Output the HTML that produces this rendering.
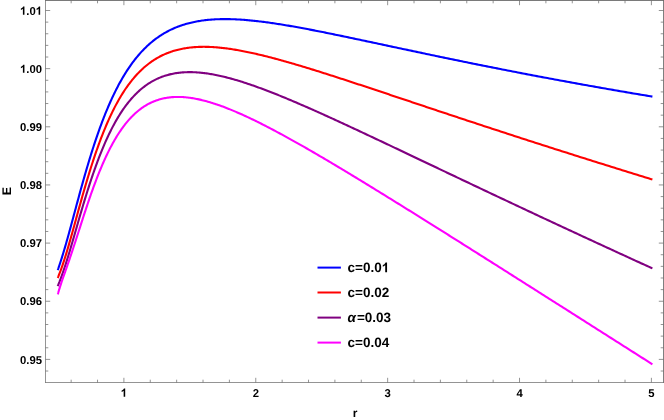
<!DOCTYPE html>
<html><head><meta charset="utf-8"><style>
html,body{margin:0;padding:0;background:#fff;}
svg{display:block;will-change:transform;}
text{font-family:"Liberation Sans",sans-serif;font-weight:bold;font-size:11.3px;fill:#000;text-rendering:geometricPrecision;}
</style></head><body>
<svg width="664" height="420" viewBox="0 0 664 420">
<rect width="664" height="420" fill="#fff"/>
<path d="M57.70,270.17 L57.73,270.09 L57.79,269.93 L57.87,269.70 L57.96,269.43 L58.08,269.11 L58.20,268.74 L58.34,268.34 L58.50,267.90 L58.66,267.42 L58.84,266.90 L59.03,266.35 L59.23,265.77 L59.44,265.15 L59.65,264.49 L59.88,263.81 L60.12,263.09 L60.37,262.34 L60.62,261.55 L60.89,260.74 L61.16,259.89 L61.44,259.00 L61.73,258.09 L62.03,257.14 L62.33,256.15 L62.64,255.14 L62.96,254.09 L63.29,253.01 L63.63,251.90 L63.97,250.75 L64.32,249.57 L64.67,248.36 L65.04,247.12 L65.41,245.84 L65.79,244.53 L66.17,243.19 L66.56,241.82 L66.96,240.41 L67.36,238.98 L67.77,237.51 L68.19,236.02 L68.61,234.49 L69.04,232.93 L69.47,231.35 L69.91,229.74 L70.36,228.10 L70.81,226.43 L71.27,224.73 L71.74,223.01 L72.21,221.27 L72.69,219.50 L73.17,217.70 L73.66,215.89 L74.15,214.05 L74.65,212.19 L75.15,210.31 L75.67,208.41 L76.18,206.49 L76.70,204.56 L77.23,202.61 L77.76,200.64 L78.30,198.65 L78.84,196.66 L79.39,194.65 L79.94,192.63 L80.50,190.59 L81.07,188.55 L81.64,186.50 L82.21,184.44 L82.79,182.37 L83.37,180.30 L83.96,178.22 L84.56,176.13 L85.16,174.05 L85.76,171.96 L86.37,169.87 L86.98,167.77 L87.60,165.68 L88.23,163.59 L88.86,161.50 L89.49,159.41 L90.13,157.33 L90.77,155.25 L91.42,153.17 L92.07,151.10 L92.73,149.04 L93.39,146.99 L94.06,144.94 L94.73,142.90 L95.40,140.87 L96.08,138.85 L96.77,136.84 L97.46,134.84 L98.15,132.85 L98.85,130.87 L99.55,128.91 L100.26,126.96 L100.97,125.03 L101.68,123.10 L102.40,121.20 L103.13,119.30 L103.86,117.43 L104.59,115.57 L105.33,113.72 L106.07,111.89 L106.82,110.08 L107.57,108.29 L108.32,106.51 L109.08,104.75 L109.85,103.01 L110.61,101.29 L111.39,99.59 L112.16,97.90 L112.94,96.23 L113.73,94.59 L114.51,92.96 L115.31,91.35 L116.10,89.76 L116.90,88.19 L117.71,86.64 L118.52,85.11 L119.33,83.60 L120.15,82.12 L120.97,80.65 L121.79,79.20 L122.62,77.77 L123.46,76.36 L124.29,74.97 L125.13,73.60 L125.98,72.26 L126.83,70.93 L127.68,69.62 L128.54,68.34 L129.40,67.07 L130.26,65.82 L131.13,64.60 L132.00,63.39 L132.88,62.20 L133.76,61.04 L134.64,59.89 L135.53,58.76 L136.42,57.65 L137.32,56.57 L138.21,55.50 L139.12,54.45 L140.02,53.42 L140.93,52.41 L141.85,51.41 L142.77,50.44 L143.69,49.48 L144.61,48.55 L145.54,47.63 L146.47,46.73 L147.41,45.85 L148.35,44.98 L149.29,44.14 L150.24,43.31 L151.19,42.50 L152.15,41.70 L153.11,40.92 L154.07,40.16 L155.03,39.42 L156.00,38.69 L156.97,37.98 L157.95,37.29 L158.93,36.61 L159.91,35.95 L160.90,35.30 L161.89,34.67 L162.89,34.06 L163.88,33.46 L164.88,32.87 L165.89,32.30 L166.90,31.75 L167.91,31.21 L168.92,30.68 L169.94,30.17 L170.96,29.67 L171.99,29.19 L173.02,28.72 L174.05,28.26 L175.09,27.81 L176.13,27.38 L177.17,26.97 L178.22,26.56 L179.27,26.17 L180.32,25.79 L181.38,25.42 L182.44,25.07 L183.50,24.73 L184.57,24.40 L185.64,24.08 L186.71,23.77 L187.79,23.47 L188.87,23.19 L189.95,22.91 L191.04,22.65 L192.13,22.40 L193.22,22.16 L194.32,21.92 L195.42,21.70 L196.52,21.49 L197.63,21.29 L198.74,21.10 L199.85,20.92 L200.97,20.75 L202.09,20.58 L203.21,20.43 L204.34,20.29 L205.46,20.15 L206.60,20.02 L207.73,19.91 L208.87,19.80 L210.02,19.70 L211.16,19.60 L212.31,19.52 L213.46,19.44 L214.62,19.38 L215.78,19.32 L216.94,19.26 L218.10,19.22 L219.27,19.18 L220.44,19.15 L221.62,19.13 L222.79,19.11 L223.98,19.10 L225.16,19.10 L226.35,19.11 L227.54,19.12 L228.73,19.14 L229.93,19.16 L231.13,19.19 L232.33,19.23 L233.54,19.27 L234.74,19.32 L235.96,19.37 L237.17,19.43 L238.39,19.50 L239.61,19.57 L240.84,19.65 L242.06,19.73 L243.29,19.82 L244.53,19.92 L245.76,20.01 L247.00,20.12 L248.25,20.23 L249.49,20.34 L250.74,20.46 L251.99,20.58 L253.25,20.71 L254.51,20.84 L255.77,20.98 L257.03,21.12 L258.30,21.27 L259.57,21.42 L260.84,21.57 L262.12,21.73 L263.40,21.89 L264.68,22.06 L265.97,22.23 L267.25,22.40 L268.54,22.58 L269.84,22.76 L271.14,22.94 L272.44,23.13 L273.74,23.32 L275.04,23.52 L276.35,23.72 L277.66,23.92 L278.98,24.12 L280.30,24.33 L281.62,24.54 L282.94,24.76 L284.27,24.98 L285.60,25.20 L286.93,25.42 L288.26,25.64 L289.60,25.87 L290.94,26.10 L292.29,26.34 L293.63,26.57 L294.98,26.81 L296.34,27.06 L297.69,27.30 L299.05,27.55 L300.41,27.80 L301.77,28.05 L303.14,28.30 L304.51,28.56 L305.88,28.81 L307.26,29.07 L308.64,29.34 L310.02,29.60 L311.40,29.87 L312.79,30.13 L314.18,30.40 L315.57,30.68 L316.97,30.95 L318.37,31.22 L319.77,31.50 L321.17,31.78 L322.58,32.06 L323.99,32.34 L325.40,32.63 L326.81,32.91 L328.23,33.20 L329.65,33.49 L331.07,33.78 L332.50,34.07 L333.93,34.36 L335.36,34.66 L336.80,34.95 L338.23,35.25 L339.67,35.55 L341.12,35.85 L342.56,36.15 L344.01,36.45 L345.46,36.75 L346.91,37.06 L348.37,37.36 L349.83,37.67 L351.29,37.98 L352.76,38.29 L354.22,38.60 L355.70,38.91 L357.17,39.22 L358.64,39.53 L360.12,39.84 L361.60,40.16 L363.09,40.47 L364.57,40.79 L366.06,41.11 L367.55,41.42 L369.05,41.74 L370.55,42.06 L372.05,42.38 L373.55,42.70 L375.05,43.02 L376.56,43.34 L378.07,43.67 L379.59,43.99 L381.10,44.31 L382.62,44.64 L384.14,44.96 L385.67,45.29 L387.19,45.62 L388.72,45.94 L390.26,46.27 L391.79,46.60 L393.33,46.93 L394.87,47.26 L396.41,47.59 L397.96,47.92 L399.50,48.25 L401.05,48.58 L402.61,48.91 L404.16,49.24 L405.72,49.57 L407.28,49.90 L408.85,50.23 L410.41,50.57 L411.98,50.90 L413.55,51.23 L415.13,51.57 L416.70,51.90 L418.28,52.24 L419.87,52.57 L421.45,52.90 L423.04,53.24 L424.63,53.57 L426.22,53.91 L427.81,54.25 L429.41,54.58 L431.01,54.92 L432.61,55.25 L434.22,55.59 L435.83,55.93 L437.44,56.26 L439.05,56.60 L440.67,56.94 L442.28,57.27 L443.90,57.61 L445.53,57.95 L447.15,58.28 L448.78,58.62 L450.41,58.96 L452.05,59.30 L453.68,59.63 L455.32,59.97 L456.96,60.31 L458.60,60.65 L460.25,60.98 L461.90,61.32 L463.55,61.66 L465.20,62.00 L466.86,62.33 L468.52,62.67 L470.18,63.01 L471.84,63.35 L473.51,63.68 L475.18,64.02 L476.85,64.36 L478.52,64.70 L480.20,65.03 L481.88,65.37 L483.56,65.71 L485.24,66.04 L486.93,66.38 L488.62,66.72 L490.31,67.05 L492.00,67.39 L493.70,67.73 L495.40,68.06 L497.10,68.40 L498.80,68.74 L500.51,69.07 L502.21,69.41 L503.93,69.74 L505.64,70.08 L507.36,70.42 L509.07,70.75 L510.79,71.09 L512.52,71.42 L514.24,71.76 L515.97,72.09 L517.70,72.43 L519.43,72.76 L521.17,73.10 L522.91,73.43 L524.65,73.76 L526.39,74.10 L528.14,74.43 L529.88,74.77 L531.63,75.10 L533.39,75.43 L535.14,75.77 L536.90,76.10 L538.66,76.43 L540.42,76.76 L542.18,77.10 L543.95,77.43 L545.72,77.76 L547.49,78.09 L549.27,78.42 L551.04,78.75 L552.82,79.08 L554.60,79.42 L556.39,79.75 L558.17,80.08 L559.96,80.41 L561.75,80.74 L563.55,81.07 L565.34,81.40 L567.14,81.72 L568.94,82.05 L570.74,82.38 L572.55,82.71 L574.36,83.04 L576.17,83.37 L577.98,83.70 L579.80,84.02 L581.61,84.35 L583.43,84.68 L585.25,85.00 L587.08,85.33 L588.90,85.66 L590.73,85.98 L592.56,86.31 L594.40,86.64 L596.23,86.96 L598.07,87.29 L599.91,87.61 L601.76,87.94 L603.60,88.26 L605.45,88.58 L607.30,88.91 L609.15,89.23 L611.01,89.56 L612.86,89.88 L614.72,90.20 L616.59,90.52 L618.45,90.85 L620.32,91.17 L622.19,91.49 L624.06,91.81 L625.93,92.13 L627.81,92.45 L629.68,92.78 L631.56,93.10 L633.45,93.42 L635.33,93.74 L637.22,94.06 L639.11,94.38 L641.00,94.70 L642.89,95.01 L644.79,95.33 L646.69,95.65 L648.59,95.97 L650.49,96.29 L652.40,96.61" fill="none" stroke="#0000ff" stroke-width="2.1" stroke-linejoin="round"/>
<path d="M57.70,277.98 L57.73,277.91 L57.79,277.78 L57.87,277.59 L57.96,277.36 L58.08,277.09 L58.20,276.78 L58.34,276.44 L58.50,276.06 L58.66,275.66 L58.84,275.22 L59.03,274.75 L59.23,274.25 L59.44,273.71 L59.65,273.15 L59.88,272.56 L60.12,271.93 L60.37,271.27 L60.62,270.59 L60.89,269.87 L61.16,269.12 L61.44,268.33 L61.73,267.52 L62.03,266.67 L62.33,265.79 L62.64,264.87 L62.96,263.92 L63.29,262.94 L63.63,261.93 L63.97,260.88 L64.32,259.80 L64.67,258.68 L65.04,257.53 L65.41,256.34 L65.79,255.12 L66.17,253.87 L66.56,252.58 L66.96,251.26 L67.36,249.91 L67.77,248.52 L68.19,247.10 L68.61,245.65 L69.04,244.16 L69.47,242.65 L69.91,241.10 L70.36,239.53 L70.81,237.92 L71.27,236.29 L71.74,234.62 L72.21,232.93 L72.69,231.22 L73.17,229.48 L73.66,227.71 L74.15,225.92 L74.65,224.10 L75.15,222.27 L75.67,220.41 L76.18,218.53 L76.70,216.64 L77.23,214.72 L77.76,212.79 L78.30,210.84 L78.84,208.88 L79.39,206.90 L79.94,204.91 L80.50,202.91 L81.07,200.89 L81.64,198.87 L82.21,196.84 L82.79,194.80 L83.37,192.75 L83.96,190.70 L84.56,188.65 L85.16,186.59 L85.76,184.53 L86.37,182.46 L86.98,180.40 L87.60,178.34 L88.23,176.28 L88.86,174.22 L89.49,172.16 L90.13,170.11 L90.77,168.06 L91.42,166.02 L92.07,163.99 L92.73,161.96 L93.39,159.94 L94.06,157.93 L94.73,155.93 L95.40,153.94 L96.08,151.96 L96.77,150.00 L97.46,148.04 L98.15,146.10 L98.85,144.17 L99.55,142.26 L100.26,140.36 L100.97,138.48 L101.68,136.61 L102.40,134.76 L103.13,132.93 L103.86,131.11 L104.59,129.31 L105.33,127.53 L106.07,125.76 L106.82,124.02 L107.57,122.29 L108.32,120.59 L109.08,118.90 L109.85,117.23 L110.61,115.58 L111.39,113.96 L112.16,112.35 L112.94,110.76 L113.73,109.20 L114.51,107.65 L115.31,106.13 L116.10,104.63 L116.90,103.15 L117.71,101.69 L118.52,100.25 L119.33,98.83 L120.15,97.44 L120.97,96.07 L121.79,94.71 L122.62,93.38 L123.46,92.08 L124.29,90.79 L125.13,89.53 L125.98,88.28 L126.83,87.06 L127.68,85.86 L128.54,84.68 L129.40,83.53 L130.26,82.39 L131.13,81.28 L132.00,80.18 L132.88,79.11 L133.76,78.06 L134.64,77.03 L135.53,76.02 L136.42,75.03 L137.32,74.06 L138.21,73.11 L139.12,72.18 L140.02,71.28 L140.93,70.39 L141.85,69.52 L142.77,68.67 L143.69,67.84 L144.61,67.03 L145.54,66.24 L146.47,65.47 L147.41,64.71 L148.35,63.98 L149.29,63.26 L150.24,62.56 L151.19,61.88 L152.15,61.22 L153.11,60.58 L154.07,59.95 L155.03,59.34 L156.00,58.75 L156.97,58.17 L157.95,57.61 L158.93,57.07 L159.91,56.54 L160.90,56.03 L161.89,55.54 L162.89,55.06 L163.88,54.60 L164.88,54.15 L165.89,53.72 L166.90,53.30 L167.91,52.90 L168.92,52.51 L169.94,52.14 L170.96,51.78 L171.99,51.44 L173.02,51.11 L174.05,50.79 L175.09,50.49 L176.13,50.20 L177.17,49.92 L178.22,49.66 L179.27,49.41 L180.32,49.17 L181.38,48.95 L182.44,48.73 L183.50,48.53 L184.57,48.35 L185.64,48.17 L186.71,48.00 L187.79,47.85 L188.87,47.71 L189.95,47.58 L191.04,47.46 L192.13,47.35 L193.22,47.25 L194.32,47.16 L195.42,47.08 L196.52,47.02 L197.63,46.96 L198.74,46.91 L199.85,46.87 L200.97,46.85 L202.09,46.83 L203.21,46.82 L204.34,46.82 L205.46,46.83 L206.60,46.85 L207.73,46.87 L208.87,46.91 L210.02,46.95 L211.16,47.01 L212.31,47.07 L213.46,47.14 L214.62,47.21 L215.78,47.30 L216.94,47.39 L218.10,47.49 L219.27,47.60 L220.44,47.72 L221.62,47.84 L222.79,47.97 L223.98,48.10 L225.16,48.25 L226.35,48.40 L227.54,48.56 L228.73,48.72 L229.93,48.89 L231.13,49.07 L232.33,49.25 L233.54,49.44 L234.74,49.64 L235.96,49.84 L237.17,50.05 L238.39,50.26 L239.61,50.48 L240.84,50.71 L242.06,50.94 L243.29,51.17 L244.53,51.41 L245.76,51.66 L247.00,51.91 L248.25,52.17 L249.49,52.43 L250.74,52.70 L251.99,52.97 L253.25,53.25 L254.51,53.53 L255.77,53.82 L257.03,54.11 L258.30,54.40 L259.57,54.70 L260.84,55.01 L262.12,55.32 L263.40,55.63 L264.68,55.95 L265.97,56.27 L267.25,56.59 L268.54,56.92 L269.84,57.25 L271.14,57.59 L272.44,57.93 L273.74,58.27 L275.04,58.62 L276.35,58.97 L277.66,59.33 L278.98,59.69 L280.30,60.05 L281.62,60.41 L282.94,60.78 L284.27,61.15 L285.60,61.53 L286.93,61.91 L288.26,62.29 L289.60,62.67 L290.94,63.06 L292.29,63.45 L293.63,63.84 L294.98,64.24 L296.34,64.64 L297.69,65.04 L299.05,65.44 L300.41,65.85 L301.77,66.26 L303.14,66.67 L304.51,67.09 L305.88,67.50 L307.26,67.92 L308.64,68.34 L310.02,68.77 L311.40,69.20 L312.79,69.62 L314.18,70.06 L315.57,70.49 L316.97,70.93 L318.37,71.36 L319.77,71.80 L321.17,72.25 L322.58,72.69 L323.99,73.14 L325.40,73.58 L326.81,74.03 L328.23,74.49 L329.65,74.94 L331.07,75.40 L332.50,75.85 L333.93,76.31 L335.36,76.77 L336.80,77.24 L338.23,77.70 L339.67,78.17 L341.12,78.64 L342.56,79.11 L344.01,79.58 L345.46,80.05 L346.91,80.53 L348.37,81.00 L349.83,81.48 L351.29,81.96 L352.76,82.44 L354.22,82.92 L355.70,83.41 L357.17,83.89 L358.64,84.38 L360.12,84.87 L361.60,85.36 L363.09,85.85 L364.57,86.34 L366.06,86.83 L367.55,87.32 L369.05,87.82 L370.55,88.32 L372.05,88.82 L373.55,89.31 L375.05,89.81 L376.56,90.32 L378.07,90.82 L379.59,91.32 L381.10,91.83 L382.62,92.33 L384.14,92.84 L385.67,93.35 L387.19,93.86 L388.72,94.37 L390.26,94.88 L391.79,95.39 L393.33,95.91 L394.87,96.42 L396.41,96.93 L397.96,97.45 L399.50,97.97 L401.05,98.49 L402.61,99.00 L404.16,99.52 L405.72,100.05 L407.28,100.57 L408.85,101.09 L410.41,101.61 L411.98,102.14 L413.55,102.66 L415.13,103.19 L416.70,103.71 L418.28,104.24 L419.87,104.77 L421.45,105.30 L423.04,105.83 L424.63,106.36 L426.22,106.89 L427.81,107.42 L429.41,107.95 L431.01,108.49 L432.61,109.02 L434.22,109.55 L435.83,110.09 L437.44,110.63 L439.05,111.16 L440.67,111.70 L442.28,112.24 L443.90,112.78 L445.53,113.32 L447.15,113.86 L448.78,114.40 L450.41,114.94 L452.05,115.48 L453.68,116.02 L455.32,116.56 L456.96,117.11 L458.60,117.65 L460.25,118.20 L461.90,118.74 L463.55,119.29 L465.20,119.83 L466.86,120.38 L468.52,120.93 L470.18,121.48 L471.84,122.02 L473.51,122.57 L475.18,123.12 L476.85,123.67 L478.52,124.22 L480.20,124.77 L481.88,125.33 L483.56,125.88 L485.24,126.43 L486.93,126.98 L488.62,127.54 L490.31,128.09 L492.00,128.64 L493.70,129.20 L495.40,129.75 L497.10,130.31 L498.80,130.87 L500.51,131.42 L502.21,131.98 L503.93,132.54 L505.64,133.09 L507.36,133.65 L509.07,134.21 L510.79,134.77 L512.52,135.33 L514.24,135.89 L515.97,136.45 L517.70,137.01 L519.43,137.57 L521.17,138.13 L522.91,138.70 L524.65,139.26 L526.39,139.82 L528.14,140.39 L529.88,140.95 L531.63,141.51 L533.39,142.08 L535.14,142.64 L536.90,143.21 L538.66,143.77 L540.42,144.34 L542.18,144.90 L543.95,145.47 L545.72,146.04 L547.49,146.61 L549.27,147.17 L551.04,147.74 L552.82,148.31 L554.60,148.88 L556.39,149.45 L558.17,150.02 L559.96,150.59 L561.75,151.16 L563.55,151.73 L565.34,152.30 L567.14,152.87 L568.94,153.44 L570.74,154.01 L572.55,154.58 L574.36,155.16 L576.17,155.73 L577.98,156.30 L579.80,156.88 L581.61,157.45 L583.43,158.02 L585.25,158.60 L587.08,159.17 L588.90,159.75 L590.73,160.32 L592.56,160.90 L594.40,161.47 L596.23,162.05 L598.07,162.63 L599.91,163.20 L601.76,163.78 L603.60,164.36 L605.45,164.94 L607.30,165.51 L609.15,166.09 L611.01,166.67 L612.86,167.25 L614.72,167.83 L616.59,168.41 L618.45,168.99 L620.32,169.57 L622.19,170.15 L624.06,170.73 L625.93,171.31 L627.81,171.89 L629.68,172.48 L631.56,173.06 L633.45,173.64 L635.33,174.22 L637.22,174.80 L639.11,175.39 L641.00,175.97 L642.89,176.56 L644.79,177.14 L646.69,177.72 L648.59,178.31 L650.49,178.89 L652.40,179.48" fill="none" stroke="#ff0000" stroke-width="2.1" stroke-linejoin="round"/>
<path d="M57.70,286.10 L57.73,286.03 L57.79,285.89 L57.87,285.71 L57.96,285.47 L58.08,285.20 L58.20,284.90 L58.34,284.56 L58.50,284.18 L58.66,283.78 L58.84,283.34 L59.03,282.88 L59.23,282.38 L59.44,281.86 L59.65,281.30 L59.88,280.72 L60.12,280.11 L60.37,279.46 L60.62,278.79 L60.89,278.09 L61.16,277.36 L61.44,276.60 L61.73,275.81 L62.03,274.98 L62.33,274.13 L62.64,273.25 L62.96,272.33 L63.29,271.39 L63.63,270.41 L63.97,269.40 L64.32,268.36 L64.67,267.29 L65.04,266.18 L65.41,265.05 L65.79,263.88 L66.17,262.68 L66.56,261.44 L66.96,260.18 L67.36,258.88 L67.77,257.56 L68.19,256.20 L68.61,254.81 L69.04,253.40 L69.47,251.95 L69.91,250.47 L70.36,248.97 L70.81,247.43 L71.27,245.87 L71.74,244.29 L72.21,242.67 L72.69,241.03 L73.17,239.37 L73.66,237.68 L74.15,235.97 L74.65,234.24 L75.15,232.49 L75.67,230.71 L76.18,228.92 L76.70,227.11 L77.23,225.28 L77.76,223.44 L78.30,221.58 L78.84,219.70 L79.39,217.81 L79.94,215.91 L80.50,214.00 L81.07,212.08 L81.64,210.15 L82.21,208.21 L82.79,206.26 L83.37,204.30 L83.96,202.35 L84.56,200.38 L85.16,198.42 L85.76,196.45 L86.37,194.48 L86.98,192.51 L87.60,190.54 L88.23,188.57 L88.86,186.61 L89.49,184.64 L90.13,182.69 L90.77,180.73 L91.42,178.79 L92.07,176.85 L92.73,174.92 L93.39,172.99 L94.06,171.08 L94.73,169.17 L95.40,167.28 L96.08,165.39 L96.77,163.52 L97.46,161.66 L98.15,159.82 L98.85,157.98 L99.55,156.17 L100.26,154.36 L100.97,152.57 L101.68,150.80 L102.40,149.05 L103.13,147.31 L103.86,145.58 L104.59,143.88 L105.33,142.19 L106.07,140.52 L106.82,138.87 L107.57,137.24 L108.32,135.63 L109.08,134.04 L109.85,132.47 L110.61,130.92 L111.39,129.39 L112.16,127.88 L112.94,126.38 L113.73,124.92 L114.51,123.47 L115.31,122.04 L116.10,120.64 L116.90,119.25 L117.71,117.89 L118.52,116.55 L119.33,115.23 L120.15,113.93 L120.97,112.66 L121.79,111.40 L122.62,110.17 L123.46,108.96 L124.29,107.77 L125.13,106.61 L125.98,105.46 L126.83,104.34 L127.68,103.24 L128.54,102.16 L129.40,101.10 L130.26,100.07 L131.13,99.05 L132.00,98.06 L132.88,97.09 L133.76,96.14 L134.64,95.21 L135.53,94.30 L136.42,93.42 L137.32,92.55 L138.21,91.71 L139.12,90.88 L140.02,90.08 L140.93,89.29 L141.85,88.53 L142.77,87.78 L143.69,87.06 L144.61,86.36 L145.54,85.67 L146.47,85.01 L147.41,84.36 L148.35,83.73 L149.29,83.12 L150.24,82.53 L151.19,81.96 L152.15,81.41 L153.11,80.87 L154.07,80.35 L155.03,79.86 L156.00,79.37 L156.97,78.91 L157.95,78.46 L158.93,78.03 L159.91,77.62 L160.90,77.22 L161.89,76.84 L162.89,76.48 L163.88,76.13 L164.88,75.80 L165.89,75.48 L166.90,75.18 L167.91,74.90 L168.92,74.63 L169.94,74.37 L170.96,74.13 L171.99,73.90 L173.02,73.69 L174.05,73.50 L175.09,73.31 L176.13,73.15 L177.17,72.99 L178.22,72.85 L179.27,72.72 L180.32,72.61 L181.38,72.51 L182.44,72.42 L183.50,72.34 L184.57,72.28 L185.64,72.23 L186.71,72.19 L187.79,72.16 L188.87,72.15 L189.95,72.14 L191.04,72.15 L192.13,72.17 L193.22,72.20 L194.32,72.24 L195.42,72.30 L196.52,72.36 L197.63,72.44 L198.74,72.52 L199.85,72.62 L200.97,72.72 L202.09,72.84 L203.21,72.97 L204.34,73.10 L205.46,73.25 L206.60,73.40 L207.73,73.57 L208.87,73.74 L210.02,73.92 L211.16,74.11 L212.31,74.31 L213.46,74.52 L214.62,74.74 L215.78,74.97 L216.94,75.20 L218.10,75.45 L219.27,75.70 L220.44,75.96 L221.62,76.22 L222.79,76.50 L223.98,76.78 L225.16,77.07 L226.35,77.37 L227.54,77.67 L228.73,77.98 L229.93,78.30 L231.13,78.63 L232.33,78.96 L233.54,79.30 L234.74,79.65 L235.96,80.00 L237.17,80.36 L238.39,80.73 L239.61,81.10 L240.84,81.48 L242.06,81.87 L243.29,82.26 L244.53,82.65 L245.76,83.06 L247.00,83.47 L248.25,83.88 L249.49,84.30 L250.74,84.73 L251.99,85.16 L253.25,85.59 L254.51,86.04 L255.77,86.48 L257.03,86.94 L258.30,87.39 L259.57,87.86 L260.84,88.32 L262.12,88.80 L263.40,89.27 L264.68,89.76 L265.97,90.24 L267.25,90.73 L268.54,91.23 L269.84,91.73 L271.14,92.23 L272.44,92.74 L273.74,93.26 L275.04,93.77 L276.35,94.30 L277.66,94.82 L278.98,95.35 L280.30,95.89 L281.62,96.42 L282.94,96.97 L284.27,97.51 L285.60,98.06 L286.93,98.61 L288.26,99.17 L289.60,99.73 L290.94,100.29 L292.29,100.86 L293.63,101.43 L294.98,102.01 L296.34,102.58 L297.69,103.17 L299.05,103.75 L300.41,104.34 L301.77,104.93 L303.14,105.52 L304.51,106.12 L305.88,106.72 L307.26,107.32 L308.64,107.93 L310.02,108.54 L311.40,109.15 L312.79,109.76 L314.18,110.38 L315.57,111.00 L316.97,111.63 L318.37,112.25 L319.77,112.88 L321.17,113.51 L322.58,114.15 L323.99,114.78 L325.40,115.42 L326.81,116.06 L328.23,116.71 L329.65,117.35 L331.07,118.00 L332.50,118.65 L333.93,119.31 L335.36,119.96 L336.80,120.62 L338.23,121.28 L339.67,121.94 L341.12,122.61 L342.56,123.28 L344.01,123.95 L345.46,124.62 L346.91,125.29 L348.37,125.97 L349.83,126.65 L351.29,127.33 L352.76,128.01 L354.22,128.69 L355.70,129.38 L357.17,130.07 L358.64,130.76 L360.12,131.45 L361.60,132.14 L363.09,132.84 L364.57,133.53 L366.06,134.23 L367.55,134.93 L369.05,135.64 L370.55,136.34 L372.05,137.05 L373.55,137.75 L375.05,138.46 L376.56,139.18 L378.07,139.89 L379.59,140.60 L381.10,141.32 L382.62,142.04 L384.14,142.76 L385.67,143.48 L387.19,144.20 L388.72,144.92 L390.26,145.65 L391.79,146.38 L393.33,147.11 L394.87,147.84 L396.41,148.57 L397.96,149.30 L399.50,150.04 L401.05,150.77 L402.61,151.51 L404.16,152.25 L405.72,152.99 L407.28,153.73 L408.85,154.47 L410.41,155.22 L411.98,155.96 L413.55,156.71 L415.13,157.46 L416.70,158.21 L418.28,158.96 L419.87,159.71 L421.45,160.46 L423.04,161.22 L424.63,161.97 L426.22,162.73 L427.81,163.49 L429.41,164.25 L431.01,165.01 L432.61,165.77 L434.22,166.54 L435.83,167.30 L437.44,168.07 L439.05,168.83 L440.67,169.60 L442.28,170.37 L443.90,171.14 L445.53,171.91 L447.15,172.68 L448.78,173.46 L450.41,174.23 L452.05,175.01 L453.68,175.78 L455.32,176.56 L456.96,177.34 L458.60,178.12 L460.25,178.90 L461.90,179.68 L463.55,180.47 L465.20,181.25 L466.86,182.03 L468.52,182.82 L470.18,183.61 L471.84,184.40 L473.51,185.18 L475.18,185.97 L476.85,186.77 L478.52,187.56 L480.20,188.35 L481.88,189.14 L483.56,189.94 L485.24,190.74 L486.93,191.53 L488.62,192.33 L490.31,193.13 L492.00,193.93 L493.70,194.73 L495.40,195.53 L497.10,196.33 L498.80,197.14 L500.51,197.94 L502.21,198.75 L503.93,199.55 L505.64,200.36 L507.36,201.17 L509.07,201.97 L510.79,202.78 L512.52,203.59 L514.24,204.41 L515.97,205.22 L517.70,206.03 L519.43,206.84 L521.17,207.66 L522.91,208.47 L524.65,209.29 L526.39,210.11 L528.14,210.93 L529.88,211.75 L531.63,212.57 L533.39,213.39 L535.14,214.21 L536.90,215.03 L538.66,215.85 L540.42,216.68 L542.18,217.50 L543.95,218.33 L545.72,219.15 L547.49,219.98 L549.27,220.81 L551.04,221.64 L552.82,222.47 L554.60,223.30 L556.39,224.13 L558.17,224.96 L559.96,225.79 L561.75,226.63 L563.55,227.46 L565.34,228.29 L567.14,229.13 L568.94,229.97 L570.74,230.80 L572.55,231.64 L574.36,232.48 L576.17,233.32 L577.98,234.16 L579.80,235.00 L581.61,235.84 L583.43,236.69 L585.25,237.53 L587.08,238.37 L588.90,239.22 L590.73,240.06 L592.56,240.91 L594.40,241.76 L596.23,242.61 L598.07,243.45 L599.91,244.30 L601.76,245.15 L603.60,246.00 L605.45,246.86 L607.30,247.71 L609.15,248.56 L611.01,249.41 L612.86,250.27 L614.72,251.12 L616.59,251.98 L618.45,252.84 L620.32,253.69 L622.19,254.55 L624.06,255.41 L625.93,256.27 L627.81,257.13 L629.68,257.99 L631.56,258.85 L633.45,259.71 L635.33,260.58 L637.22,261.44 L639.11,262.31 L641.00,263.17 L642.89,264.04 L644.79,264.90 L646.69,265.77 L648.59,266.64 L650.49,267.51 L652.40,268.38" fill="none" stroke="#800080" stroke-width="2.1" stroke-linejoin="round"/>
<path d="M57.80,294.36 L57.83,294.26 L57.89,294.04 L57.97,293.75 L58.06,293.39 L58.18,292.98 L58.30,292.52 L58.44,292.02 L58.60,291.48 L58.76,290.91 L58.94,290.31 L59.13,289.67 L59.33,289.01 L59.54,288.33 L59.75,287.62 L59.98,286.89 L60.22,286.14 L60.47,285.38 L60.72,284.59 L60.99,283.79 L61.26,282.97 L61.54,282.13 L61.83,281.28 L62.13,280.41 L62.43,279.53 L62.74,278.62 L63.06,277.70 L63.39,276.77 L63.73,275.81 L64.07,274.84 L64.42,273.85 L64.77,272.84 L65.14,271.81 L65.51,270.77 L65.88,269.70 L66.27,268.61 L66.66,267.49 L67.06,266.36 L67.46,265.21 L67.87,264.03 L68.28,262.83 L68.71,261.60 L69.14,260.35 L69.57,259.08 L70.01,257.78 L70.46,256.46 L70.91,255.12 L71.37,253.75 L71.84,252.36 L72.31,250.94 L72.78,249.50 L73.27,248.04 L73.75,246.55 L74.25,245.04 L74.75,243.51 L75.25,241.95 L75.76,240.38 L76.28,238.78 L76.80,237.17 L77.33,235.53 L77.86,233.88 L78.40,232.20 L78.94,230.51 L79.49,228.81 L80.04,227.09 L80.60,225.35 L81.16,223.60 L81.73,221.84 L82.31,220.06 L82.89,218.28 L83.47,216.48 L84.06,214.68 L84.65,212.87 L85.25,211.05 L85.86,209.22 L86.47,207.39 L87.08,205.56 L87.70,203.72 L88.32,201.88 L88.95,200.04 L89.58,198.20 L90.22,196.36 L90.86,194.52 L91.51,192.69 L92.16,190.86 L92.82,189.03 L93.48,187.21 L94.15,185.40 L94.82,183.59 L95.50,181.79 L96.18,180.00 L96.86,178.22 L97.55,176.45 L98.24,174.70 L98.94,172.95 L99.64,171.22 L100.35,169.50 L101.06,167.79 L101.78,166.10 L102.50,164.42 L103.22,162.76 L103.95,161.11 L104.68,159.49 L105.42,157.87 L106.16,156.28 L106.91,154.71 L107.66,153.15 L108.41,151.61 L109.17,150.10 L109.94,148.60 L110.70,147.12 L111.48,145.66 L112.25,144.23 L113.03,142.81 L113.82,141.42 L114.60,140.04 L115.40,138.69 L116.19,137.36 L116.99,136.05 L117.80,134.77 L118.61,133.51 L119.42,132.27 L120.24,131.05 L121.06,129.85 L121.88,128.68 L122.71,127.53 L123.54,126.41 L124.38,125.30 L125.22,124.22 L126.07,123.16 L126.92,122.13 L127.77,121.11 L128.62,120.13 L129.48,119.16 L130.35,118.21 L131.22,117.29 L132.09,116.39 L132.97,115.52 L133.84,114.66 L134.73,113.83 L135.62,113.02 L136.51,112.24 L137.40,111.47 L138.30,110.73 L139.20,110.01 L140.11,109.30 L141.02,108.63 L141.93,107.97 L142.85,107.33 L143.77,106.72 L144.70,106.12 L145.63,105.55 L146.56,104.99 L147.50,104.46 L148.44,103.95 L149.38,103.45 L150.33,102.98 L151.28,102.53 L152.23,102.09 L153.19,101.68 L154.15,101.28 L155.12,100.90 L156.09,100.54 L157.06,100.20 L158.03,99.88 L159.01,99.57 L160.00,99.29 L160.98,99.02 L161.97,98.77 L162.97,98.53 L163.97,98.31 L164.97,98.11 L165.97,97.93 L166.98,97.76 L167.99,97.61 L169.01,97.47 L170.02,97.35 L171.05,97.25 L172.07,97.16 L173.10,97.08 L174.13,97.02 L175.17,96.98 L176.21,96.95 L177.25,96.93 L178.30,96.93 L179.35,96.95 L180.40,96.97 L181.45,97.01 L182.51,97.07 L183.58,97.14 L184.64,97.22 L185.71,97.31 L186.79,97.42 L187.86,97.54 L188.94,97.67 L190.03,97.81 L191.11,97.97 L192.20,98.13 L193.30,98.31 L194.39,98.50 L195.49,98.71 L196.60,98.92 L197.70,99.15 L198.81,99.38 L199.93,99.63 L201.04,99.89 L202.16,100.15 L203.28,100.43 L204.41,100.72 L205.54,101.02 L206.67,101.33 L207.81,101.65 L208.95,101.97 L210.09,102.31 L211.24,102.66 L212.38,103.01 L213.54,103.38 L214.69,103.75 L215.85,104.14 L217.01,104.53 L218.18,104.93 L219.34,105.34 L220.52,105.75 L221.69,106.18 L222.87,106.61 L224.05,107.06 L225.23,107.51 L226.42,107.96 L227.61,108.43 L228.80,108.90 L230.00,109.38 L231.20,109.87 L232.40,110.36 L233.61,110.87 L234.81,111.38 L236.03,111.89 L237.24,112.42 L238.46,112.95 L239.68,113.48 L240.91,114.03 L242.13,114.57 L243.36,115.13 L244.60,115.69 L245.83,116.26 L247.07,116.84 L248.32,117.42 L249.56,118.01 L250.81,118.60 L252.06,119.20 L253.32,119.80 L254.57,120.41 L255.84,121.03 L257.10,121.65 L258.37,122.28 L259.64,122.91 L260.91,123.55 L262.18,124.19 L263.46,124.84 L264.75,125.49 L266.03,126.15 L267.32,126.81 L268.61,127.48 L269.90,128.16 L271.20,128.83 L272.50,129.52 L273.80,130.21 L275.11,130.90 L276.42,131.59 L277.73,132.30 L279.04,133.00 L280.36,133.71 L281.68,134.43 L283.00,135.15 L284.33,135.87 L285.66,136.60 L286.99,137.33 L288.33,138.07 L289.66,138.81 L291.00,139.55 L292.35,140.30 L293.69,141.05 L295.04,141.81 L296.40,142.57 L297.75,143.33 L299.11,144.10 L300.47,144.87 L301.83,145.64 L303.20,146.42 L304.57,147.20 L305.94,147.99 L307.32,148.78 L308.70,149.57 L310.08,150.37 L311.46,151.17 L312.85,151.97 L314.24,152.78 L315.63,153.59 L317.02,154.40 L318.42,155.22 L319.82,156.04 L321.23,156.86 L322.63,157.69 L324.04,158.52 L325.45,159.35 L326.87,160.19 L328.29,161.02 L329.71,161.87 L331.13,162.71 L332.55,163.56 L333.98,164.41 L335.41,165.26 L336.85,166.12 L338.29,166.98 L339.73,167.84 L341.17,168.71 L342.61,169.57 L344.06,170.44 L345.51,171.32 L346.97,172.19 L348.42,173.07 L349.88,173.96 L351.34,174.84 L352.81,175.73 L354.27,176.62 L355.74,177.51 L357.22,178.40 L358.69,179.30 L360.17,180.20 L361.65,181.10 L363.14,182.01 L364.62,182.92 L366.11,183.83 L367.60,184.74 L369.10,185.65 L370.59,186.57 L372.09,187.49 L373.60,188.41 L375.10,189.34 L376.61,190.27 L378.12,191.19 L379.63,192.13 L381.15,193.06 L382.67,194.00 L384.19,194.94 L385.71,195.88 L387.24,196.82 L388.77,197.77 L390.30,198.71 L391.83,199.66 L393.37,200.62 L394.91,201.57 L396.45,202.53 L398.00,203.49 L399.55,204.45 L401.10,205.41 L402.65,206.37 L404.20,207.34 L405.76,208.31 L407.32,209.28 L408.89,210.26 L410.45,211.23 L412.02,212.21 L413.59,213.19 L415.17,214.17 L416.74,215.16 L418.32,216.14 L419.90,217.13 L421.49,218.12 L423.08,219.11 L424.66,220.11 L426.26,221.10 L427.85,222.10 L429.45,223.10 L431.05,224.11 L432.65,225.11 L434.26,226.12 L435.86,227.12 L437.47,228.13 L439.09,229.15 L440.70,230.16 L442.32,231.18 L443.94,232.19 L445.56,233.21 L447.19,234.23 L448.82,235.26 L450.45,236.28 L452.08,237.31 L453.71,238.34 L455.35,239.37 L456.99,240.40 L458.64,241.44 L460.28,242.47 L461.93,243.51 L463.58,244.55 L465.23,245.59 L466.89,246.64 L468.55,247.68 L470.21,248.73 L471.87,249.78 L473.54,250.83 L475.21,251.88 L476.88,252.94 L478.55,253.99 L480.23,255.05 L481.91,256.11 L483.59,257.17 L485.27,258.24 L486.96,259.30 L488.64,260.37 L490.34,261.44 L492.03,262.51 L493.72,263.58 L495.42,264.65 L497.12,265.73 L498.83,266.81 L500.53,267.89 L502.24,268.97 L503.95,270.05 L505.66,271.13 L507.38,272.22 L509.10,273.31 L510.82,274.40 L512.54,275.49 L514.27,276.58 L515.99,277.67 L517.72,278.77 L519.46,279.87 L521.19,280.97 L522.93,282.07 L524.67,283.17 L526.41,284.27 L528.16,285.38 L529.90,286.49 L531.65,287.60 L533.41,288.71 L535.16,289.82 L536.92,290.93 L538.68,292.05 L540.44,293.17 L542.20,294.29 L543.97,295.41 L545.74,296.53 L547.51,297.65 L549.28,298.78 L551.06,299.91 L552.84,301.03 L554.62,302.16 L556.40,303.30 L558.19,304.43 L559.98,305.56 L561.77,306.70 L563.56,307.84 L565.36,308.98 L567.16,310.12 L568.96,311.26 L570.76,312.41 L572.56,313.56 L574.37,314.70 L576.18,315.85 L577.99,317.00 L579.81,318.16 L581.62,319.31 L583.44,320.47 L585.26,321.62 L587.09,322.78 L588.92,323.94 L590.74,325.10 L592.57,326.27 L594.41,327.43 L596.24,328.60 L598.08,329.77 L599.92,330.94 L601.77,332.11 L603.61,333.28 L605.46,334.46 L607.31,335.63 L609.16,336.81 L611.01,337.99 L612.87,339.17 L614.73,340.35 L616.59,341.53 L618.46,342.72 L620.32,343.91 L622.19,345.09 L624.06,346.28 L625.93,347.47 L627.81,348.67 L629.69,349.86 L631.57,351.06 L633.45,352.25 L635.33,353.45 L637.22,354.65 L639.11,355.86 L641.00,357.06 L642.90,358.26 L644.79,359.47 L646.69,360.68 L648.59,361.89 L650.49,363.10 L652.40,364.31" fill="none" stroke="#ff00ff" stroke-width="2.1" stroke-linejoin="round"/>
<g stroke="#666" stroke-width="0.7" fill="none">
<line x1="71.15" y1="382.5" x2="71.15" y2="379.7"/>
<line x1="71.15" y1="0.5" x2="71.15" y2="3.3"/>
<line x1="97.53" y1="382.5" x2="97.53" y2="379.7"/>
<line x1="97.53" y1="0.5" x2="97.53" y2="3.3"/>
<line x1="123.90" y1="382.5" x2="123.90" y2="377.8"/>
<line x1="123.90" y1="0.5" x2="123.90" y2="5.2"/>
<line x1="150.28" y1="382.5" x2="150.28" y2="379.7"/>
<line x1="150.28" y1="0.5" x2="150.28" y2="3.3"/>
<line x1="176.65" y1="382.5" x2="176.65" y2="379.7"/>
<line x1="176.65" y1="0.5" x2="176.65" y2="3.3"/>
<line x1="203.03" y1="382.5" x2="203.03" y2="379.7"/>
<line x1="203.03" y1="0.5" x2="203.03" y2="3.3"/>
<line x1="229.40" y1="382.5" x2="229.40" y2="379.7"/>
<line x1="229.40" y1="0.5" x2="229.40" y2="3.3"/>
<line x1="255.78" y1="382.5" x2="255.78" y2="377.8"/>
<line x1="255.78" y1="0.5" x2="255.78" y2="5.2"/>
<line x1="282.15" y1="382.5" x2="282.15" y2="379.7"/>
<line x1="282.15" y1="0.5" x2="282.15" y2="3.3"/>
<line x1="308.53" y1="382.5" x2="308.53" y2="379.7"/>
<line x1="308.53" y1="0.5" x2="308.53" y2="3.3"/>
<line x1="334.90" y1="382.5" x2="334.90" y2="379.7"/>
<line x1="334.90" y1="0.5" x2="334.90" y2="3.3"/>
<line x1="361.28" y1="382.5" x2="361.28" y2="379.7"/>
<line x1="361.28" y1="0.5" x2="361.28" y2="3.3"/>
<line x1="387.65" y1="382.5" x2="387.65" y2="377.8"/>
<line x1="387.65" y1="0.5" x2="387.65" y2="5.2"/>
<line x1="414.02" y1="382.5" x2="414.02" y2="379.7"/>
<line x1="414.02" y1="0.5" x2="414.02" y2="3.3"/>
<line x1="440.40" y1="382.5" x2="440.40" y2="379.7"/>
<line x1="440.40" y1="0.5" x2="440.40" y2="3.3"/>
<line x1="466.77" y1="382.5" x2="466.77" y2="379.7"/>
<line x1="466.77" y1="0.5" x2="466.77" y2="3.3"/>
<line x1="493.15" y1="382.5" x2="493.15" y2="379.7"/>
<line x1="493.15" y1="0.5" x2="493.15" y2="3.3"/>
<line x1="519.52" y1="382.5" x2="519.52" y2="377.8"/>
<line x1="519.52" y1="0.5" x2="519.52" y2="5.2"/>
<line x1="545.90" y1="382.5" x2="545.90" y2="379.7"/>
<line x1="545.90" y1="0.5" x2="545.90" y2="3.3"/>
<line x1="572.28" y1="382.5" x2="572.28" y2="379.7"/>
<line x1="572.28" y1="0.5" x2="572.28" y2="3.3"/>
<line x1="598.65" y1="382.5" x2="598.65" y2="379.7"/>
<line x1="598.65" y1="0.5" x2="598.65" y2="3.3"/>
<line x1="625.03" y1="382.5" x2="625.03" y2="379.7"/>
<line x1="625.03" y1="0.5" x2="625.03" y2="3.3"/>
<line x1="651.40" y1="382.5" x2="651.40" y2="377.8"/>
<line x1="651.40" y1="0.5" x2="651.40" y2="5.2"/>
<line x1="45.5" y1="371.03" x2="48.3" y2="371.03"/>
<line x1="663.5" y1="371.03" x2="660.7" y2="371.03"/>
<line x1="45.5" y1="359.40" x2="50.2" y2="359.40"/>
<line x1="663.5" y1="359.40" x2="658.8" y2="359.40"/>
<line x1="45.5" y1="347.77" x2="48.3" y2="347.77"/>
<line x1="663.5" y1="347.77" x2="660.7" y2="347.77"/>
<line x1="45.5" y1="336.14" x2="48.3" y2="336.14"/>
<line x1="663.5" y1="336.14" x2="660.7" y2="336.14"/>
<line x1="45.5" y1="324.51" x2="48.3" y2="324.51"/>
<line x1="663.5" y1="324.51" x2="660.7" y2="324.51"/>
<line x1="45.5" y1="312.88" x2="48.3" y2="312.88"/>
<line x1="663.5" y1="312.88" x2="660.7" y2="312.88"/>
<line x1="45.5" y1="301.25" x2="50.2" y2="301.25"/>
<line x1="663.5" y1="301.25" x2="658.8" y2="301.25"/>
<line x1="45.5" y1="289.62" x2="48.3" y2="289.62"/>
<line x1="663.5" y1="289.62" x2="660.7" y2="289.62"/>
<line x1="45.5" y1="277.99" x2="48.3" y2="277.99"/>
<line x1="663.5" y1="277.99" x2="660.7" y2="277.99"/>
<line x1="45.5" y1="266.36" x2="48.3" y2="266.36"/>
<line x1="663.5" y1="266.36" x2="660.7" y2="266.36"/>
<line x1="45.5" y1="254.73" x2="48.3" y2="254.73"/>
<line x1="663.5" y1="254.73" x2="660.7" y2="254.73"/>
<line x1="45.5" y1="243.10" x2="50.2" y2="243.10"/>
<line x1="663.5" y1="243.10" x2="658.8" y2="243.10"/>
<line x1="45.5" y1="231.47" x2="48.3" y2="231.47"/>
<line x1="663.5" y1="231.47" x2="660.7" y2="231.47"/>
<line x1="45.5" y1="219.84" x2="48.3" y2="219.84"/>
<line x1="663.5" y1="219.84" x2="660.7" y2="219.84"/>
<line x1="45.5" y1="208.21" x2="48.3" y2="208.21"/>
<line x1="663.5" y1="208.21" x2="660.7" y2="208.21"/>
<line x1="45.5" y1="196.58" x2="48.3" y2="196.58"/>
<line x1="663.5" y1="196.58" x2="660.7" y2="196.58"/>
<line x1="45.5" y1="184.95" x2="50.2" y2="184.95"/>
<line x1="663.5" y1="184.95" x2="658.8" y2="184.95"/>
<line x1="45.5" y1="173.32" x2="48.3" y2="173.32"/>
<line x1="663.5" y1="173.32" x2="660.7" y2="173.32"/>
<line x1="45.5" y1="161.69" x2="48.3" y2="161.69"/>
<line x1="663.5" y1="161.69" x2="660.7" y2="161.69"/>
<line x1="45.5" y1="150.06" x2="48.3" y2="150.06"/>
<line x1="663.5" y1="150.06" x2="660.7" y2="150.06"/>
<line x1="45.5" y1="138.43" x2="48.3" y2="138.43"/>
<line x1="663.5" y1="138.43" x2="660.7" y2="138.43"/>
<line x1="45.5" y1="126.80" x2="50.2" y2="126.80"/>
<line x1="663.5" y1="126.80" x2="658.8" y2="126.80"/>
<line x1="45.5" y1="115.17" x2="48.3" y2="115.17"/>
<line x1="663.5" y1="115.17" x2="660.7" y2="115.17"/>
<line x1="45.5" y1="103.54" x2="48.3" y2="103.54"/>
<line x1="663.5" y1="103.54" x2="660.7" y2="103.54"/>
<line x1="45.5" y1="91.91" x2="48.3" y2="91.91"/>
<line x1="663.5" y1="91.91" x2="660.7" y2="91.91"/>
<line x1="45.5" y1="80.28" x2="48.3" y2="80.28"/>
<line x1="663.5" y1="80.28" x2="660.7" y2="80.28"/>
<line x1="45.5" y1="68.65" x2="50.2" y2="68.65"/>
<line x1="663.5" y1="68.65" x2="658.8" y2="68.65"/>
<line x1="45.5" y1="57.02" x2="48.3" y2="57.02"/>
<line x1="663.5" y1="57.02" x2="660.7" y2="57.02"/>
<line x1="45.5" y1="45.39" x2="48.3" y2="45.39"/>
<line x1="663.5" y1="45.39" x2="660.7" y2="45.39"/>
<line x1="45.5" y1="33.76" x2="48.3" y2="33.76"/>
<line x1="663.5" y1="33.76" x2="660.7" y2="33.76"/>
<line x1="45.5" y1="22.13" x2="48.3" y2="22.13"/>
<line x1="663.5" y1="22.13" x2="660.7" y2="22.13"/>
<line x1="45.5" y1="10.50" x2="50.2" y2="10.50"/>
<line x1="663.5" y1="10.50" x2="658.8" y2="10.50"/>
</g>
<g stroke="#666" fill="none">
<line x1="45.5" y1="0" x2="45.5" y2="382.85" stroke-width="0.7"/>
<line x1="45.15" y1="382.5" x2="664" y2="382.5" stroke-width="0.7"/>
<line x1="45.15" y1="0.5" x2="664" y2="0.5" stroke-width="0.87"/>
<line x1="663.5" y1="0" x2="663.5" y2="382.85" stroke-width="0.84"/>
</g>
<text x="20.010" y="363.60" style="font-size:11.3px">0.95</text>
<text x="20.010" y="305.45" style="font-size:11.3px">0.96</text>
<text x="20.010" y="247.30" style="font-size:11.3px">0.97</text>
<text x="20.010" y="189.15" style="font-size:11.3px">0.98</text>
<text x="20.010" y="131.00" style="font-size:11.3px">0.99</text>
<path d="M393 0H256V518Q180 447 78 413V538Q132 556 195 605T282 720H393V0Z" transform="translate(20.010,72.85) scale(0.01130,-0.01130)" fill="#000"/><text x="26.293" y="72.85" style="font-size:11.3px">.00</text>
<path d="M393 0H256V518Q180 447 78 413V538Q132 556 195 605T282 720H393V0Z" transform="translate(20.010,14.70) scale(0.01130,-0.01130)" fill="#000"/><text x="26.293" y="14.70" style="font-size:11.3px">.0</text><path d="M393 0H256V518Q180 447 78 413V538Q132 556 195 605T282 720H393V0Z" transform="translate(35.717,14.70) scale(0.01130,-0.01130)" fill="#000"/>
<path d="M393 0H256V518Q180 447 78 413V538Q132 556 195 605T282 720H393V0Z" transform="translate(120.759,396.70) scale(0.01130,-0.01130)" fill="#000"/>
<text x="252.634" y="396.70" style="font-size:11.3px">2</text>
<text x="384.509" y="396.70" style="font-size:11.3px">3</text>
<text x="516.384" y="396.70" style="font-size:11.3px">4</text>
<text x="648.259" y="396.70" style="font-size:11.3px">5</text>
<text x="355.1" y="416.6" text-anchor="middle" style="font-size:12px">r</text>
<text transform="translate(10.7,191.2) rotate(-90)" text-anchor="middle" style="font-size:12.5px">E</text>
<line x1="317.5" y1="267.6" x2="340.9" y2="267.6" stroke="#0000ff" stroke-width="2.0"/>
<text x="347.600" y="272.30" style="font-size:13.5px">c=0.0</text><path d="M393 0H256V518Q180 447 78 413V538Q132 556 195 605T282 720H393V0Z" transform="translate(381.755,272.30) scale(0.01350,-0.01350)" fill="#000"/>
<line x1="317.5" y1="292.5" x2="340.9" y2="292.5" stroke="#ff0000" stroke-width="2.0"/>
<text x="347.6" y="297.2" style="font-size:13.5px">c=0.02</text>
<line x1="317.5" y1="317.6" x2="340.9" y2="317.6" stroke="#800080" stroke-width="2.0"/>
<text x="347.6" y="322.3" style="font-size:13.5px"><tspan style="font-style:italic">α</tspan><tspan dx="0.9">=0.03</tspan></text>
<line x1="317.5" y1="342.6" x2="340.9" y2="342.6" stroke="#ff00ff" stroke-width="2.0"/>
<text x="347.6" y="347.3" style="font-size:13.5px">c=0.04</text>
</svg>
</body></html>
